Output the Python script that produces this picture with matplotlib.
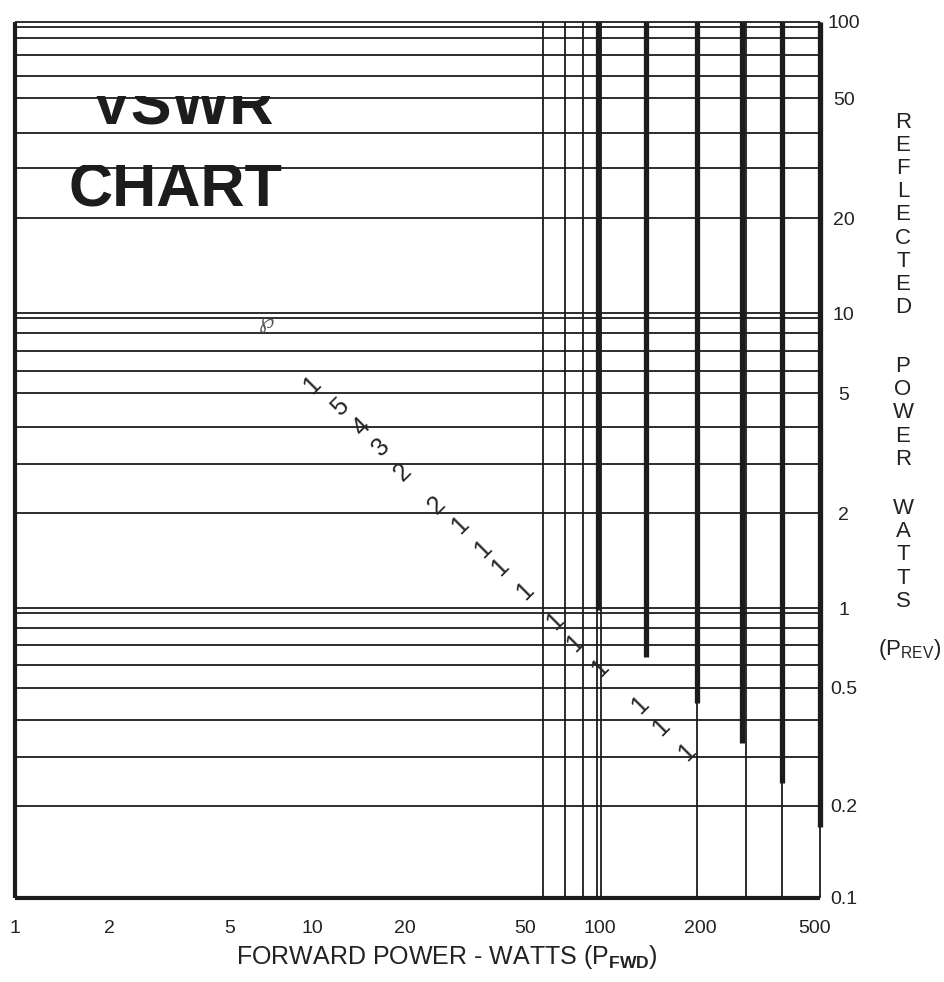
import matplotlib.pyplot as plt
from matplotlib.transforms import Bbox, TransformedBbox
from matplotlib.ticker import NullLocator

plt.rcParams['font.family'] = ['Liberation Sans', 'DejaVu Sans']
plt.rcParams['mathtext.fontset'] = 'custom'
plt.rcParams['mathtext.rm'] = 'Liberation Sans'
plt.rcParams['mathtext.bf'] = 'Liberation Sans:bold'

# horizontal rules (reflected power, watts)
h_lines = [100, 96.1, 88.1, 77.1, 65.3, 54.9, 41.7, 31.6, 21.3,
           10.07, 9.68, 8.61, 7.47, 6.38, 5.36, 4.10, 3.06, 2.08,
           0.984, 0.946, 0.841, 0.735, 0.628, 0.524, 0.407, 0.304, 0.207]

# vertical rules (forward power, watts)
thin_v = [58.9, 69.8, 80.2, 89.4, 92.2, 193, 282, 372.6, 500]
thick_v = [89.9, 130.4, 193, 273.6, 372.6, 500]
thick_v_end = [0.97, 0.668, 0.465, 0.34, 0.248, 0.175]

# characters along the diagonal
mark_fwd = [9.88, 12.3, 14.5, 16.9, 20.0, 25.9, 31.0, 37.2, 42.3, 51.2,
            64.6, 75.4, 91.4, 125, 147, 179]
mark_rev = [5.71, 4.81, 4.10, 3.51, 2.88, 2.22, 1.89, 1.56, 1.36, 1.12,
            0.884, 0.745, 0.612, 0.458, 0.386, 0.317]
mark_txt = ['1', '5', '4', '3', '2', '2', '1', '1', '1', '1',
            '1', '1', '1', '1', '1', '1']

xtick_pos = [1.0, 2.08, 5.26, 9.9, 20.3, 51.2, 91.4, 197.8, 480.8]
xtick_lab = ['1', '2', '5', '10', '20', '50', '100', '200', '500']
ytick_pos = [100, 54.9, 21.3, 10.07, 5.36, 2.08, 0.984, 0.524, 0.207, 0.1]
ytick_lab = ['100', '50', '20', '10', '5', '2', '1', '0.5', '0.2', '0.1']

ink = '#1c1c1c'

fig = plt.figure(figsize=(9.45, 9.82), dpi=100)
ax = fig.add_axes([15/945, 84/982, 805/945, 876/982])
ax.set_xscale('log')
ax.set_yscale('log')
ax.set_xlim(1, 500)
ax.set_ylim(0.1, 100)
for s in ax.spines.values():
    s.set_visible(False)

ax.hlines(h_lines, 1, 500, color=ink, lw=1.3, clip_on=False)
ax.hlines(0.1, 1, 500, color=ink, lw=3, clip_on=False)
ax.vlines(1, 0.1, 100, color=ink, lw=3, clip_on=False)
ax.vlines(thin_v, 0.1, 100, color=ink, lw=1.3, clip_on=False)
ax.vlines(thick_v, thick_v_end, 100, color=ink, lw=3.8, clip_on=False)

for f, r, t in zip(mark_fwd, mark_rev, mark_txt):
    ax.text(f, r, t, rotation=45, ha='center', va='center', fontsize=18,
            color='#252525', rotation_mode='anchor')

ax.text(6.98, 9.29, '\u2118', fontsize=16, color='#555555', ha='center',
        va='center', family=['DejaVu Sans'])

# title, top of each word cut off as in the scan
t1 = ax.text(3.63, 44.4, 'VSWR', fontsize=44, fontweight='bold',
             ha='center', va='baseline', color=ink)
t1.set_clip_box(TransformedBbox(Bbox([[1, 0.1], [500, 56]]), ax.transData))
t1.set_clip_on(True)
t2 = ax.text(3.44, 23.4, 'CHART', fontsize=44, fontweight='bold',
             ha='center', va='baseline', color=ink)
t2.set_clip_box(TransformedBbox(Bbox([[1, 0.1], [500, 32.4]]), ax.transData))
t2.set_clip_on(True)

ax.xaxis.set_minor_locator(NullLocator())
ax.yaxis.set_minor_locator(NullLocator())
ax.set_xticks(xtick_pos)
ax.set_xticklabels(xtick_lab)
ax.yaxis.tick_right()
ax.set_yticks(ytick_pos)
ax.set_yticklabels(ytick_lab)
ax.tick_params(axis='x', length=0, pad=16, labelsize=14, labelcolor='#222222')
ax.tick_params(axis='y', length=0, pad=17, labelsize=14, labelcolor='#222222')
for lbl in ax.get_yticklabels():
    lbl.set_ha('center')

fig.text(447/945, 1 - 957/982, r'FORWARD POWER - WATTS (P$_{\mathbf{FWD}}$)',
         ha='center', va='center', fontsize=18, color='#222222')

side = dict(ha='center', va='center', fontsize=16, linespacing=1.13,
            color='#222222')
fig.text(903/945, 1 - 215/982, '\n'.join('REFLECTED'), **side)
fig.text(903/945, 1 - 413/982, '\n'.join('POWER'), **side)
fig.text(903/945, 1 - 555/982, '\n'.join('WATTS'), **side)
fig.text(910/945, 1 - 650/982, r'(P$_{\rm REV}$)', ha='center', va='center',
         fontsize=16, color='#222222')

fig.savefig('out.png', dpi=100)
